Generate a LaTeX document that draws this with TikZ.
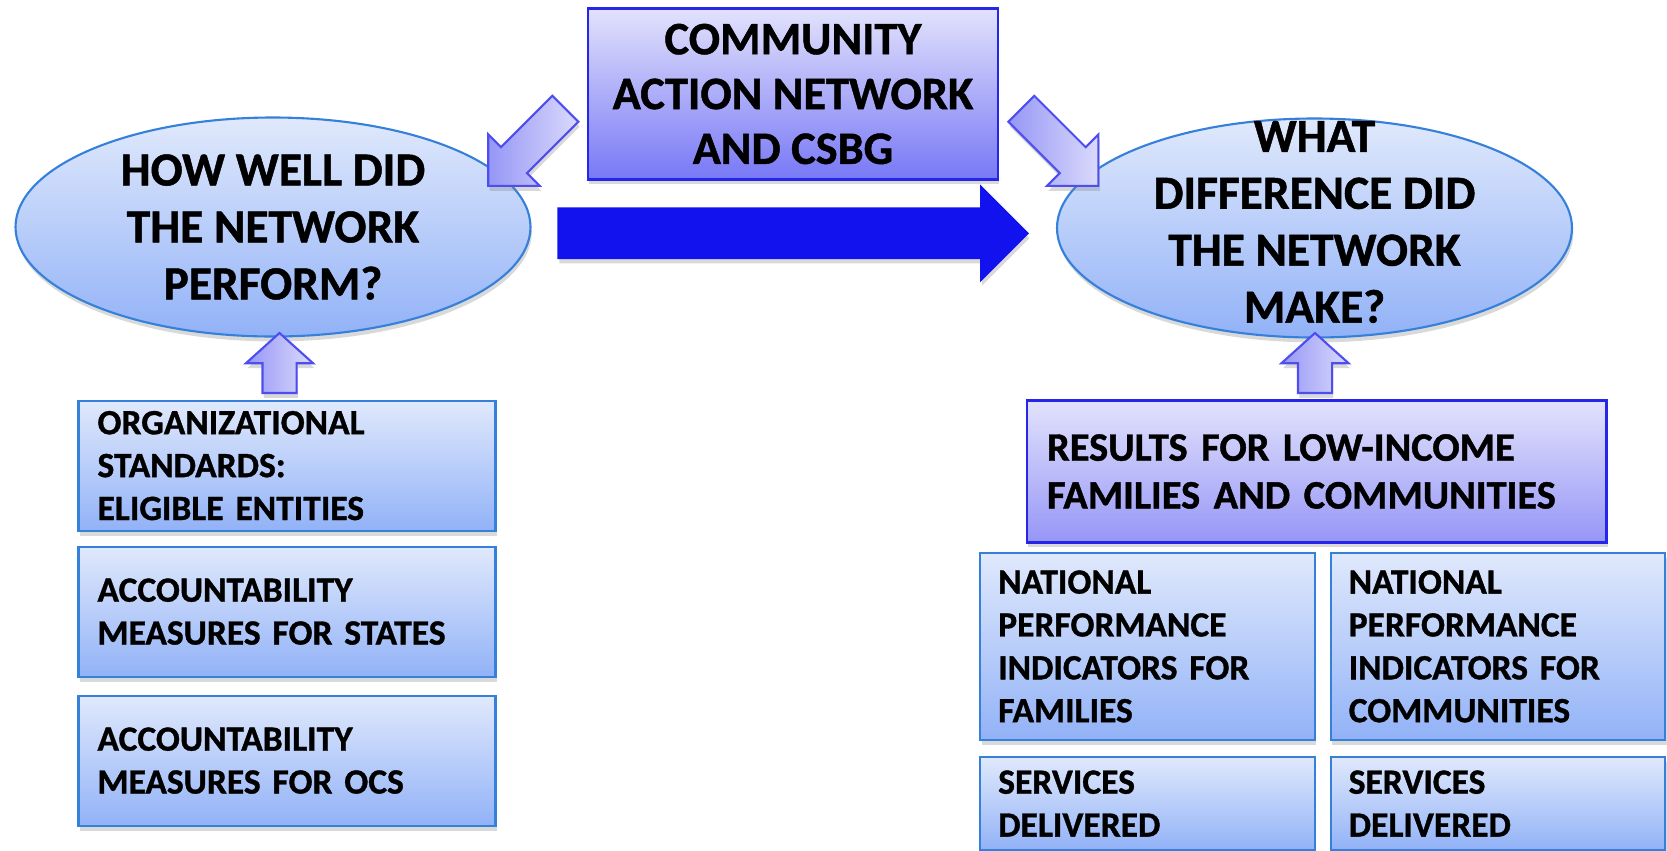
\documentclass[tikz,border=0pt]{standalone}
\usepackage{fontspec}
\setmainfont{Carlito}[BoldFeatures={FakeBold=1}]
\usepackage{xcolor}
\definecolor{lavtop}{RGB}{226,226,252}
\definecolor{lavbot}{RGB}{120,120,246}
\definecolor{lavbot2}{RGB}{150,150,247}
\definecolor{lavline}{RGB}{38,38,232}
\definecolor{skytop}{RGB}{224,233,252}
\definecolor{skybot}{RGB}{146,178,247}
\definecolor{skyline}{RGB}{52,128,218}
\definecolor{bigblue}{RGB}{18,18,238}
\definecolor{arrtop}{RGB}{218,218,252}
\definecolor{arrbot}{RGB}{150,150,246}
\definecolor{arrline}{RGB}{78,78,240}
\usepackage{tikz}
\usetikzlibrary{positioning}
\usetikzlibrary{shapes.geometric,shapes.arrows}
\usetikzlibrary{calc}
\usetikzlibrary{shadows}

\begin{document}
\begin{tikzpicture}[every node/.style={inner sep=0,outer sep=0,font=\bfseries},
    shadowed/.style={drop shadow={shadow xshift=0.4pt,shadow yshift=-1.4pt,opacity=0.3}},
    lavbox/.style={shadowed,draw=lavline,line width=0.8pt,top color=lavtop},
    skybox/.style={shadowed,draw=skyline,line width=0.6pt,top color=skytop,bottom color=skybot,align=left},
    leftbox/.style={skybox,text width=3.79cm,inner xsep=0.19cm,minimum height=1.30cm,font=\bfseries\fontsize{10.1}{12.2}\selectfont},
    gridbox/.style={skybox,text width=2.985cm,inner xsep=0.18cm,font=\bfseries\fontsize{10.1}{12.2}\selectfont},
    bubble/.style={shadowed,ellipse,draw=skyline,line width=0.6pt,top color=skytop,bottom color=skybot,minimum width=5.15cm,minimum height=2.19cm},
    bubtext/.style={align=center,font=\bfseries\fontsize{13.5}{16.2}\selectfont},
    bigarrow/.style={shadowed,single arrow,anchor=tail,fill=bigblue,draw=bigblue,single arrow head extend=0.22cm,single arrow tip angle=90,inner xsep=0,inner ysep=0.245cm,minimum height=4.70cm},
    blockarrow/.style={shadowed,single arrow,anchor=tail,draw=arrline,line width=0.6pt,left color=arrbot,right color=arrtop,inner xsep=0},
    tiltarrow/.style={blockarrow,single arrow head extend=0.18cm,single arrow tip angle=90,inner ysep=0.173cm,minimum height=1.09cm},
    liftarrow/.style={blockarrow,single arrow head extend=0.165cm,single arrow tip angle=96,inner ysep=0.16cm,minimum height=0.60cm,rotate=90}]
    \useasboundingbox (0,0) rectangle (16.67,-8.51);
    \node (T0) [lavbox,bottom color=lavbot,minimum width=4.10cm,minimum height=1.705cm,align=center,font=\bfseries\fontsize{13.2}{15.6}\selectfont] at (7.93,-0.94) {COMMUNITY\\ACTION NETWORK\\AND CSBG};
    \node (E1) [bubble] at (2.73,-2.27) {};
    \node (E2) [bubble] at (13.145,-2.28) {};
    \node (Q1) [bubtext] at (E1) {HOW WELL DID\\THE NETWORK\\PERFORM?};
    \node (Q2) [bubtext,yshift=0.06cm] at (E2) {WHAT\\DIFFERENCE DID\\THE NETWORK\\MAKE?};
    \node (L1) [leftbox] at (2.87,-4.656) {ORGANIZATIONAL\\STANDARDS:\\ELIGIBLE ENTITIES};
    \node (L2) [leftbox,below=0.16cm of L1] {ACCOUNTABILITY\\MEASURES FOR STATES};
    \node (L3) [leftbox,below=0.19cm of L2] {ACCOUNTABILITY\\MEASURES FOR OCS};
    \node (R0) [lavbox,bottom color=lavbot2,text width=5.394cm,inner xsep=0.2cm,minimum height=1.414cm,align=left,font=\bfseries\fontsize{11.5}{13.6}\selectfont] at (13.167,-4.715) {RESULTS FOR LOW-INCOME\\FAMILIES AND COMMUNITIES};
    \node (R1) [gridbox,minimum height=1.872cm] at (11.475,-6.464) {NATIONAL\\PERFORMANCE\\INDICATORS FOR\\FAMILIES};
    \node (R2) [gridbox,minimum height=1.872cm,right=0.16cm of R1] {NATIONAL\\PERFORMANCE\\INDICATORS FOR\\COMMUNITIES};
    \node (R3) [gridbox,minimum height=0.93cm,below=0.17cm of R1] {SERVICES\\DELIVERED};
    \node (R4) [gridbox,minimum height=0.93cm,below=0.17cm of R2] {SERVICES\\DELIVERED};
    \node (A0) [bigarrow] at ($(E1.east)+(0.275,-0.063)$) {};
    \node (A1) [tiltarrow,rotate=225] at ($(T0.south west)+(-0.227,0.705)$) {};
    \node (A2) [tiltarrow,rotate=-45] at ($(T0.south east)+(0.233,0.705)$) {};
    \node (U1) [liftarrow] at ($(L1.north)+(-0.075,0.076)$) {};
    \node (U2) [liftarrow] at ($(R0.north)+(-0.017,0.078)$) {};
\end{tikzpicture}
\end{document}
